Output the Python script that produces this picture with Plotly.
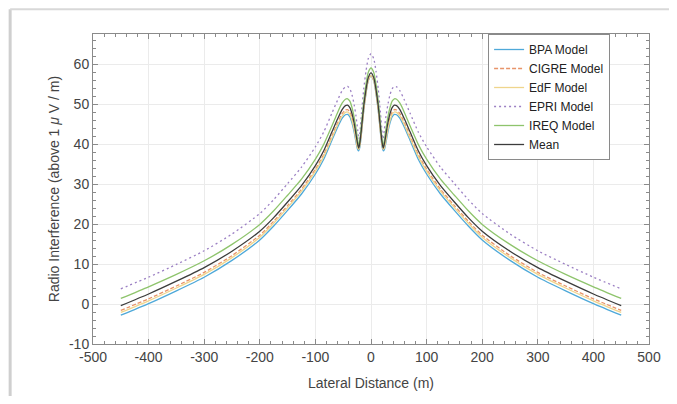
import plotly.graph_objects as go

# lateral distance (m)
distance = [-450, -400, -350, -300, -250, -200, -175, -150, -125, -100, -85, -70, -60, -52,
            -46, -42, -38, -34, -30, -27, -24, -22, -20, -17, -13, -9, -5,
            0,
            5, 9, 13, 17, 20, 22, 24, 27, 30, 34, 38, 42, 46,
            52, 60, 70, 85, 100, 125, 150, 175, 200, 250, 300, 350, 400, 450]

bpa = [-2.8, 0.1, 3.3, 6.7, 10.9, 16.0, 19.5, 23.4, 27.5, 32.5, 36.2, 41.0, 44.2, 46.4,
       47.3, 47.4, 46.8, 45.2, 42.8, 40.5, 38.6, 38.3, 39.2, 42.8, 48.4, 52.6, 55.8,
       57.0,
       55.8, 52.6, 48.4, 42.8, 39.2, 38.3, 38.6, 40.5, 42.8, 45.2, 46.8, 47.4, 47.3,
       46.4, 44.2, 41.0, 36.2, 32.5, 27.5, 23.4, 19.5, 16.0, 10.9, 6.7, 3.3, 0.1, -2.8]

cigre = [-1.6, 1.3, 4.5, 7.9, 12.1, 17.2, 20.7, 24.6, 28.7, 33.7, 37.4, 42.1, 45.3, 47.6,
         48.5, 48.6, 48.0, 46.4, 43.9, 41.4, 39.2, 38.8, 39.8, 43.2, 48.8, 53.0, 56.0,
         57.2,
         56.0, 53.0, 48.8, 43.2, 39.8, 38.8, 39.2, 41.4, 43.9, 46.4, 48.0, 48.6, 48.5,
         47.6, 45.3, 42.1, 37.4, 33.7, 28.7, 24.6, 20.7, 17.2, 12.1, 7.9, 4.5, 1.3, -1.6]

edf = [-2.1, 0.8, 4.0, 7.4, 11.6, 16.7, 20.2, 24.1, 28.2, 33.2, 36.9, 41.6, 44.8, 47.0,
       47.9, 48.0, 47.4, 45.8, 43.4, 41.0, 39.0, 38.7, 39.6, 43.0, 48.6, 52.8, 55.9,
       57.1,
       55.9, 52.8, 48.6, 43.0, 39.6, 38.7, 39.0, 41.0, 43.4, 45.8, 47.4, 48.0, 47.9,
       47.0, 44.8, 41.6, 36.9, 33.2, 28.2, 24.1, 20.2, 16.7, 11.6, 7.4, 4.0, 0.8, -2.1]

epri = [3.8, 6.7, 9.9, 13.3, 17.5, 22.6, 26.1, 30.1, 34.2, 39.3, 43.0, 47.8, 51.0, 53.3,
        54.3, 54.4, 53.8, 52.2, 49.6, 47.0, 43.6, 41.2, 42.8, 47.8, 53.8, 58.2, 61.3,
        62.6,
        61.3, 58.2, 53.8, 47.8, 42.8, 41.2, 43.6, 47.0, 49.6, 52.2, 53.8, 54.4, 54.3,
        53.3, 51.0, 47.8, 43.0, 39.3, 34.2, 30.1, 26.1, 22.6, 17.5, 13.3, 9.9, 6.7, 3.8]

ireq = [1.4, 4.3, 7.4, 10.8, 14.9, 19.9, 23.3, 27.2, 31.2, 36.2, 39.9, 44.6, 47.9, 50.2,
        51.2, 51.3, 50.7, 49.0, 46.5, 43.9, 41.0, 39.6, 41.0, 45.3, 50.8, 55.0, 57.9,
        59.0,
        57.9, 55.0, 50.8, 45.3, 41.0, 39.6, 41.0, 43.9, 46.5, 49.0, 50.7, 51.3, 51.2,
        50.2, 47.9, 44.6, 39.9, 36.2, 31.2, 27.2, 23.3, 19.9, 14.9, 10.8, 7.4, 4.3, 1.4]

mean = [-0.4, 2.5, 5.7, 9.1, 13.2, 18.2, 21.6, 25.5, 29.6, 34.6, 38.3, 43.1, 46.3, 48.6,
        49.6, 49.7, 49.1, 47.5, 45.0, 42.4, 40.0, 39.0, 40.3, 44.0, 49.5, 53.6, 56.6,
        57.8,
        56.6, 53.6, 49.5, 44.0, 40.3, 39.0, 40.0, 42.4, 45.0, 47.5, 49.1, 49.7, 49.6,
        48.6, 46.3, 43.1, 38.3, 34.6, 29.6, 25.5, 21.6, 18.2, 13.2, 9.1, 5.7, 2.5, -0.4]

x_ticks = [-500, -400, -300, -200, -100, 0, 100, 200, 300, 400, 500]
x_labels = ["-500", "-400", "-300", "-200", "-100", "0", "100", "200", "300", "400", "500"]
y_ticks = [-10, 0, 10, 20, 30, 40, 50, 60]
y_labels = ["-10", "0", "10", "20", "30", "40", "50", "60"]

series = [
    ("BPA Model", bpa, "#4fa9d9", "solid"),
    ("CIGRE Model", cigre, "#e8946a", "4px,2px"),
    ("EdF Model", edf, "#efd58c", "solid"),
    ("EPRI Model", epri, "#9c80c4", "2px,3px"),
    ("IREQ Model", ireq, "#8ec46c", "solid"),
    ("Mean", mean, "#3c3c3c", "solid"),
]

fig = go.Figure()
for name, vals, color, dash in series:
    fig.add_trace(go.Scatter(
        x=distance, y=vals, name=name, mode="lines",
        line=dict(color=color, width=1.3, dash=dash, shape="spline", smoothing=0.6)
    ))

font_family = "Liberation Sans, Arial"
axis_style = dict(
    showgrid=True, gridcolor="#ebebeb", gridwidth=1,
    showline=True, linecolor="#8a8a8a", linewidth=1, mirror="ticks",
    ticks="inside", ticklen=5, tickcolor="#8a8a8a",
    tickfont=dict(family=font_family, size=14, color="#444444"),
    zeroline=False, automargin=False,
)

fig.update_xaxes(
    range=[-500, 500], tickvals=x_ticks, ticktext=x_labels,
    minor=dict(ticks="inside", dtick=20, ticklen=3, tickcolor="#8a8a8a", showgrid=False),
    title=dict(text="Lateral Distance (m)", standoff=14,
               font=dict(family=font_family, size=14, color="#444444")),
    **axis_style
)
fig.update_yaxes(
    range=[-10, 67.5], tickvals=y_ticks, ticktext=y_labels,
    minor=dict(ticks="inside", dtick=2, ticklen=3, tickcolor="#8a8a8a", showgrid=False),
    title=dict(text="Radio Interference (above 1 <i>μ</i> V / m)", standoff=6,
               font=dict(family=font_family, size=14, color="#444444")),
    **axis_style
)

# the page adds an 8px body margin, so the figure is sized to fit inside the window
fig.update_layout(
    width=661, height=388,
    margin=dict(l=85, r=20, t=26, b=52),
    paper_bgcolor="white", plot_bgcolor="white",
    showlegend=True,
    legend=dict(
        x=0.93, y=1.0, xanchor="right", yanchor="top",
        bordercolor="#8a8a8a", borderwidth=1, bgcolor="white",
        font=dict(family=font_family, size=12, color="#222222"),
        tracegroupgap=0,
    ),
    shapes=[
        dict(type="line", xref="paper", yref="paper", x0=-0.149, x1=-0.149, y0=-0.25, y1=1.08,
             line=dict(color="#cfcfcf", width=3)),
        dict(type="line", xref="paper", yref="paper", x0=-0.149, x1=1.06, y0=1.08, y1=1.08,
             line=dict(color="#d8d8d8", width=2)),
    ],
)

fig.write_html("out.html")
